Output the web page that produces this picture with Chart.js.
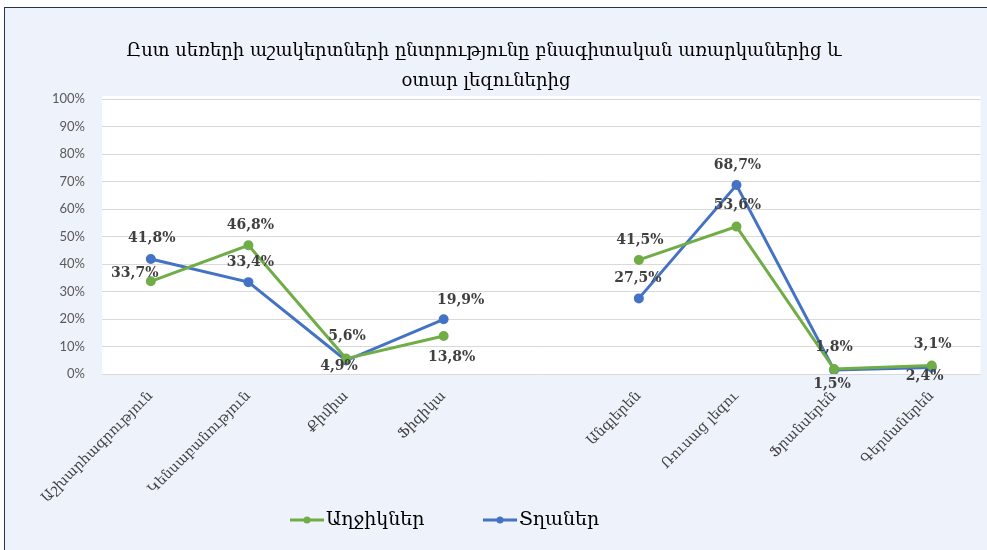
<!DOCTYPE html>
<html lang="hy">
<head>
<meta charset="UTF-8">
<title>Աշակերտների ընտրությունը</title>
<script src="https://cdn.jsdelivr.net/npm/chart.js"></script>
<style>
  html, body { margin: 0; padding: 0; background: #fff; }
  .marco {
    position: absolute; left: 4px; top: 7px; width: 983px; height: 543px;
    background: #eef2fa; border-top: 1px solid #27344f; border-left: 1px solid #27344f;
    box-sizing: border-box;
  }
  .lienzo { position: absolute; left: 0; top: 0; }
</style>
</head>
<body>
<div class="marco"></div>
<canvas id="grafico" class="lienzo" width="987" height="550"></canvas>

<script>
  // datos
  const categorias = ["Աշխարհագրություն", "Կենսաբանություն", "Քիմիա", "Ֆիզիկա", "",
                      "Անգլերեն", "Ռուսաց լեզու", "Ֆրանսերեն", "Գերմաներեն"];
  const aghjikner = [33.7, 46.8, 5.6, 13.8, null, 41.5, 53.6, 1.8, 3.1];
  const tghaner   = [41.8, 33.4, 4.9, 19.9, null, 27.5, 68.7, 1.5, 2.4];
  const nombresSeries = ["Աղջիկներ", "Տղաներ"];
  const tituloLineas = ["Ըստ սեռերի աշակերտների ընտրությունը բնագիտական առարկաներից և",
                        "օտար լեզուներից"];

  const verde = "#70ad47";
  const azul = "#4472c4";

  // fondo blanco del area de trazado
  const fondoArea = {
    id: "fondoArea",
    beforeDraw(chart) {
      const a = chart.chartArea, ctx = chart.ctx;
      ctx.save();
      ctx.fillStyle = "#ffffff";
      ctx.fillRect(a.left, a.top - 3, a.right - a.left, a.bottom - a.top + 4);
      ctx.restore();
    }
  };

  // titulo y leyenda dibujados a mano
  const tituloLeyenda = {
    id: "tituloLeyenda",
    afterDraw(chart) {
      const ctx = chart.ctx;
      ctx.save();
      ctx.fillStyle = "#000";
      ctx.textAlign = "center";
      ctx.textBaseline = "middle";
      ctx.font = '18px "DejaVu Serif"';
      ctx.fillText(tituloLineas[0], 484, 51);
      ctx.fillText(tituloLineas[1], 486, 81);

      const items = [
        { x: 290, color: verde, texto: nombresSeries[0] },
        { x: 483, color: azul, texto: nombresSeries[1] }
      ];
      const y = 520;
      items.forEach(it => {
        ctx.strokeStyle = it.color;
        ctx.lineWidth = 3;
        ctx.beginPath();
        ctx.moveTo(it.x, y);
        ctx.lineTo(it.x + 34, y);
        ctx.stroke();
        ctx.fillStyle = it.color;
        ctx.beginPath();
        ctx.arc(it.x + 17, y, 3.5, 0, Math.PI * 2);
        ctx.fill();
        ctx.fillStyle = "#000";
        ctx.textAlign = "left";
        ctx.font = '19px "DejaVu Serif"';
        ctx.fillText(it.texto, it.x + 36, y);
      });
      ctx.restore();
    }
  };

  // etiquetas de valores junto a cada punto
  const etiquetas = {
    id: "etiquetas",
    afterDatasetsDraw(chart, args, opts) {
      const ctx = chart.ctx;
      ctx.save();
      ctx.font = 'bold 14px "DejaVu Serif"';
      ctx.fillStyle = "#404040";
      ctx.textAlign = "center";
      ctx.textBaseline = "middle";
      chart.data.datasets.forEach((ds, i) => {
        const meta = chart.getDatasetMeta(i);
        meta.data.forEach((pt, j) => {
          const v = ds.data[j];
          if (v === null || v === undefined) return;
          const off = opts.desplazamientos[i][j];
          const guia = opts.guias[i][j];
          if (guia) {
            ctx.strokeStyle = "#bfbfbf";
            ctx.lineWidth = 1;
            ctx.beginPath();
            ctx.moveTo(pt.x + guia[0], pt.y + guia[1]);
            ctx.lineTo(pt.x + guia[2], pt.y + guia[3]);
            ctx.stroke();
          }
          ctx.fillText(v.toFixed(1).replace(".", ",") + "%", pt.x + off[0], pt.y + off[1]);
        });
      });
      ctx.restore();
    }
  };

  new Chart(document.getElementById("grafico"), {
    type: "line",
    data: {
      labels: categorias,
      datasets: [
        {
          label: nombresSeries[0],
          data: aghjikner,
          borderColor: verde,
          backgroundColor: verde,
          borderWidth: 3,
          pointRadius: 3.5,
          pointHoverRadius: 3.5,
          tension: 0,
          spanGaps: false
        },
        {
          label: nombresSeries[1],
          data: tghaner,
          borderColor: azul,
          backgroundColor: azul,
          borderWidth: 3,
          pointRadius: 3.5,
          pointHoverRadius: 3.5,
          tension: 0,
          spanGaps: false
        }
      ]
    },
    options: {
      responsive: false,
      animation: false,
      layout: { padding: { top: 99, right: 0, left: 0, bottom: 0 } },
      plugins: {
        legend: { display: false },
        title: { display: false },
        tooltip: { enabled: false },
        etiquetas: {
          desplazamientos: [
            [[-16, -8], [2, -20], [1, -22], [8, 21], null, [1, -20], [1, -21], [0, -22], [1, -21]],
            [[1, -21], [2, -20], [-7, 6], [17, -19], null, [-1, -20], [1, -20], [-2, 14], [-7, 9]]
          ],
          guias: [
            [null, null, null, [3, 2], null, null, null, null, null],
            [null, null, null, [3, -2], null, null, null, null, null]
          ]
        }
      },
      scales: {
        x: {
          offset: true,
          grid: { display: false },
          border: { display: false },
          afterFit: s => { s.height = 176; },
          ticks: {
            minRotation: 45,
            maxRotation: 45,
            padding: 6,
            color: "#404040",
            font: { family: "DejaVu Serif", size: 14 }
          }
        },
        y: {
          min: 0,
          max: 100,
          afterFit: s => { s.width = 102; },
          grid: { color: "#d9d9d9", drawTicks: false },
          border: { display: false },
          ticks: {
            stepSize: 10,
            padding: 17,
            color: "#595959",
            font: { family: "Lato", size: 13 },
            callback: v => v + "%"
          }
        }
      }
    },
    plugins: [fondoArea, etiquetas, tituloLeyenda]
  });
</script>
</body>
</html>
